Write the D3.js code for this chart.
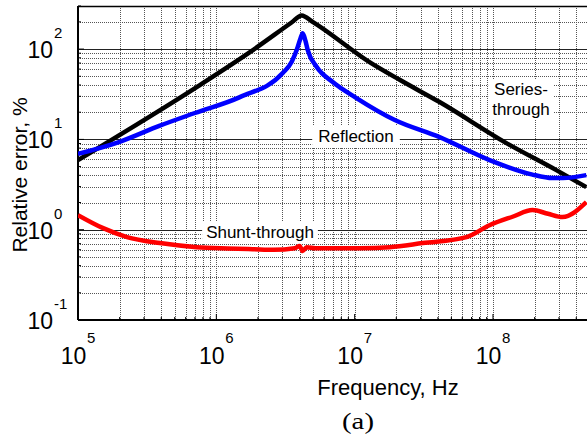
<!DOCTYPE html>
<html>
<head>
<meta charset="utf-8">
<script src="https://cdn.jsdelivr.net/npm/d3@7/dist/d3.min.js"></script>
<style>
  html, body { margin: 0; padding: 0; background: #fff; }
  svg { display: block; }
</style>
</head>
<body>
<svg id="chart" width="587" height="438"></svg>
<script>
// ---- data ----
const seriesThroughFreq = [1e5, 7.6e5, 1.75e6, 3.5e6, 4.14e6, 5e6, 1.28e7, 2.13e7, 4.11e7, 1.25e8, 2.87e8, 4.73e8];
const seriesThroughVal  = [5.9, 40, 92.6, 197, 236, 199, 71.8, 45.4, 25.9, 9.1, 4.57, 2.96];

const reflectionFreq = [1e5, 2e5, 3.91e5, 7e5, 1.48e6, 3.02e6, 3.5e6, 3.81e6, 4.05e6, 4.21e6, 4.4e6, 4.58e6, 5.32e6, 6.94e6, 1.03e7, 1.95e7, 4.11e7, 9.44e7, 1.9e8, 2.69e8, 3.2e8, 4.73e8];
const reflectionVal  = [6.9, 9.4, 14.2, 19.6, 29.4, 54.2, 72, 97.5, 130, 150, 125, 97.5, 63.2, 43.1, 28.7, 16.4, 10.6, 5.9, 4.1, 3.73, 3.73, 4.02];

const shuntFreq = [1e5, 1.52e5, 2.26e5, 3.91e5, 7.23e5, 1.2e6, 1.84e6, 2.6e6, 3.69e6, 4.0e6, 4.21e6, 4.5e6, 5.2e6, 1.09e7, 1.79e7, 3.1e7, 6.44e7, 9.44e7, 1.4e8, 1.93e8, 2.5e8, 3.18e8, 4.73e8];
const shuntVal  = [1.45, 1.04, 0.828, 0.711, 0.641, 0.62, 0.609, 0.6, 0.624, 0.658, 0.58, 0.641, 0.624, 0.625, 0.641, 0.711, 0.828, 1.12, 1.4, 1.65, 1.5, 1.38, 2.02];

const xTickExps = [5, 6, 7, 8];
const yTickExps = [-1, 0, 1, 2];

const seriesNames  = ["Series-through", "Reflection", "Shunt-through"];
const seriesColors = ["#000000", "#0000ff", "#ff0000"];

const xTitle = "Frequency, Hz";
const yTitle = "Relative error, %";
const caption = "(a)";

const SANS = "Arial, 'Liberation Sans', Arimo, Helvetica, sans-serif";
const SERIF = "'Times New Roman', 'Liberation Serif', Tinos, Times, serif";

// ---- layout ----
const plotLeft = 78, plotRight = 587, plotTop = 6, plotBottom = 320;

const x = d3.scaleLog().domain([1e5, 1e9]).range([plotLeft, plotLeft + 4 * 138.33]);
const y = d3.scaleLog().domain([0.1, 300]).range([plotBottom, plotTop]);

const svg = d3.select("#chart").attr("font-family", SANS);

svg.append("defs").append("clipPath").attr("id", "plotclip")
  .append("rect").attr("x", plotLeft).attr("y", plotTop)
  .attr("width", plotRight - plotLeft).attr("height", plotBottom - plotTop);

const isDecade = v => Math.abs(Math.log10(v) - Math.round(Math.log10(v))) < 1e-9;

// ---- grid ----
const xGridVals = [];
for (let e = 5; e <= 8; e++) for (let m = 1; m <= 9; m++) xGridVals.push(m * Math.pow(10, e));
const yGridVals = [];
for (let e = -1; e <= 2; e++) for (let m = 1; m <= 9; m++) {
  const v = m * Math.pow(10, e);
  if (v <= 300) yGridVals.push(v);
}

const grid = svg.append("g").attr("clip-path", "url(#plotclip)");
grid.selectAll("line.vx").data(xGridVals.filter(v => x(v) > plotLeft + 0.5)).enter().append("line")
  .attr("x1", d => Math.round(x(d)) + 0.5).attr("x2", d => Math.round(x(d)) + 0.5)
  .attr("y1", plotTop).attr("y2", plotBottom)
  .attr("stroke", "#555").attr("stroke-width", 1).attr("stroke-dasharray", "1,1");
grid.selectAll("line.hy").data(yGridVals.filter(v => y(v) < plotBottom - 0.5)).enter().append("line")
  .attr("y1", d => Math.round(y(d)) + 0.5).attr("y2", d => Math.round(y(d)) + 0.5)
  .attr("x1", plotLeft).attr("x2", plotRight)
  .attr("stroke", d => isDecade(d) ? "#222" : "#555")
  .attr("stroke-width", 1)
  .attr("stroke-dasharray", d => isDecade(d) ? null : "1,1");

// ---- axes frame ----
svg.append("line").attr("x1", plotLeft).attr("x2", plotRight).attr("y1", plotTop + 0.5).attr("y2", plotTop + 0.5)
  .attr("stroke", "#000").attr("stroke-width", 1.5);
svg.append("line").attr("x1", plotLeft).attr("x2", plotRight).attr("y1", plotBottom).attr("y2", plotBottom)
  .attr("stroke", "#000").attr("stroke-width", 2);
svg.append("line").attr("x1", plotLeft).attr("x2", plotLeft).attr("y1", plotTop).attr("y2", plotBottom)
  .attr("stroke", "#000").attr("stroke-width", 2);

// inward ticks
svg.selectAll("line.xt").data(xGridVals.filter(v => x(v) < plotRight)).enter().append("line")
  .attr("x1", d => x(d)).attr("x2", d => x(d))
  .attr("y1", plotBottom).attr("y2", d => plotBottom - (isDecade(d) ? 6 : 3))
  .attr("stroke", "#000").attr("stroke-width", 1);
svg.selectAll("line.yt").data(yGridVals).enter().append("line")
  .attr("y1", d => y(d)).attr("y2", d => y(d))
  .attr("x1", plotLeft).attr("x2", d => plotLeft + (isDecade(d) ? 6 : 3))
  .attr("stroke", "#000").attr("stroke-width", 1);

// ---- curves ----
const line = d3.line().x(d => x(d[0])).y(d => y(d[1])).curve(d3.curveMonotoneX);
const seriesData = [
  d3.zip(seriesThroughFreq, seriesThroughVal),
  d3.zip(reflectionFreq, reflectionVal),
  d3.zip(shuntFreq, shuntVal)
];
const curves = svg.append("g").attr("clip-path", "url(#plotclip)");
curves.selectAll("path").data(seriesData).enter().append("path")
  .attr("d", line)
  .attr("fill", "none")
  .attr("stroke", (d, i) => seriesColors[i])
  .attr("stroke-width", 4.5)
  .attr("stroke-linejoin", "round");

// ---- in-plot labels with white boxes ----
function boxLabel(lines, cx, baseY, lineH, pad) {
  const g = svg.append("g");
  const t = g.append("text").attr("font-size", 17).attr("text-anchor", "middle");
  lines.forEach((s, i) => t.append("tspan").attr("x", cx).attr("y", baseY + i * lineH).text(s));
  const bb = t.node().getBBox();
  g.insert("rect", "text").attr("x", bb.x - pad).attr("y", bb.y - 1).attr("width", bb.width + 2 * pad)
    .attr("height", bb.height + 2).attr("fill", "#fff");
}
boxLabel(["Series-", "through"], 521, 95, 20, 4);
boxLabel([seriesNames[1]], 356, 142, 20, 6);
boxLabel([seriesNames[2]], 260, 238, 20, 4);

// ---- tick labels ----
const xl = svg.append("g");
xTickExps.forEach(e => {
  const px = x(Math.pow(10, e));
  xl.append("text").attr("x", px - 4.5).attr("y", 364).attr("font-size", 23).attr("text-anchor", "middle").text("10");
  xl.append("text").attr("x", px + 9).attr("y", 343).attr("font-size", 15).text(String(e));
});
const yl = svg.append("g");
yTickExps.forEach(e => {
  const py = y(Math.pow(10, e));
  yl.append("text").attr("x", 53).attr("y", py + 9).attr("font-size", 23).attr("text-anchor", "end").text("10");
  yl.append("text").attr("x", 54).attr("y", py - 11).attr("font-size", 15).text(String(e));
});

// ---- titles ----
svg.append("text").attr("x", 388).attr("y", 395).attr("font-size", 22).attr("text-anchor", "middle").text(xTitle);
svg.append("text").attr("transform", "translate(27,175) rotate(-90)").attr("font-size", 21)
  .attr("text-anchor", "middle").text(yTitle);
svg.append("text").attr("transform", "translate(358,429) scale(1.25,1)").attr("font-size", 23)
  .attr("text-anchor", "middle").attr("font-family", SERIF).text(caption);
</script>
</body>
</html>
